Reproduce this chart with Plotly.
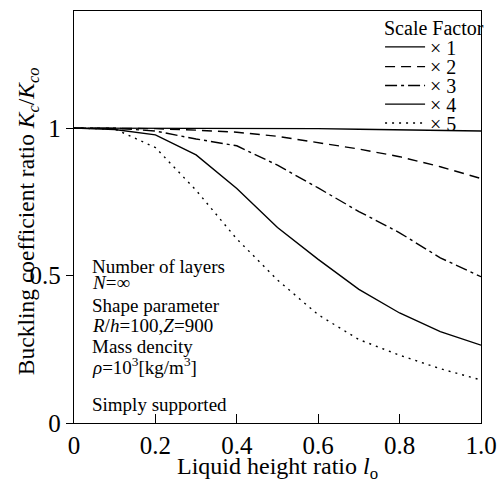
import plotly.graph_objects as go

# ---- data ----
liquid_height = [0.0, 0.1, 0.2, 0.3, 0.4, 0.5, 0.6, 0.7, 0.8, 0.9, 1.0]
scale_labels = ["× 1", "× 2", "× 3", "× 4", "× 5"]
k_x1 = [1.0, 1.0, 1.0, 1.0, 1.0, 0.999, 0.998, 0.996, 0.994, 0.992, 0.99]
k_x2 = [1.0, 1.0, 0.998, 0.993, 0.986, 0.972, 0.951, 0.929, 0.903, 0.869, 0.829]
k_x3 = [1.0, 1.0, 0.99, 0.963, 0.94, 0.874, 0.797, 0.717, 0.645, 0.56, 0.496]
k_x4 = [1.0, 0.995, 0.977, 0.909, 0.795, 0.663, 0.555, 0.453, 0.373, 0.31, 0.264]
k_x5 = [1.0, 0.997, 0.934, 0.789, 0.624, 0.485, 0.367, 0.283, 0.23, 0.184, 0.146]
series = [k_x1, k_x2, k_x3, k_x4, k_x5]

x_ticks = [0, 0.2, 0.4, 0.6, 0.8, 1.0]
x_ticktext = ["0", "0.2", "0.4", "0.6", "0.8", "1.0"]
y_ticks = [0, 0.5, 1]
y_ticktext = ["0", "0.5", "1"]

x_title = "Liquid height ratio <i>l</i><sub>o</sub>"
y_title = "Buckling coefficient ratio <i>K</i><sub><i>c</i></sub>/<i>K</i><sub><i>co</i></sub>"
legend_title = "Scale Factor"
info_lines = [
    "Number of layers",
    "<i>N</i>=∞",
    "Shape parameter",
    "<i>R</i>/<i>h</i>=100,<i>Z</i>=900",
    "Mass dencity",
    "<i>ρ</i>=10<sup>3</sup>[kg/m<sup>3</sup>]",
    "Simply supported",
]

# ---- styles ----
FONT = "Liberation Serif, Times New Roman, serif"
dashes = ["solid", "10px,6px", "12px,4px,3px,4px", "solid", "2px,5px"]
info_y = [0.381, 0.341, 0.284, 0.236, 0.186, 0.138, 0.046]
legend_y = [0.913, 0.865, 0.819, 0.774, 0.728]

fig = go.Figure()
for i, (lab, ys) in enumerate(zip(scale_labels, series)):
    lg = "legend" if i == 0 else f"legend{i+1}"
    fig.add_trace(go.Scatter(
        x=liquid_height, y=ys, mode="lines", name=lab,
        line=dict(color="black", width=1.4, dash=dashes[i]),
        legend=lg,
    ))

legend_layouts = {}
for i, ly in enumerate(legend_y):
    key = "legend" if i == 0 else f"legend{i+1}"
    legend_layouts[key] = dict(
        x=0.752, xanchor="left", y=ly, yanchor="middle",
        bgcolor="rgba(0,0,0,0)", borderwidth=0,
        font=dict(family=FONT, size=20, color="black"),
        itemwidth=40,
    )

annotations = [dict(
    text=legend_title, xref="paper", yref="paper", x=0.757, y=0.958,
    xanchor="left", yanchor="middle", showarrow=False,
    font=dict(family=FONT, size=20, color="black"),
)]
for t, yy in zip(info_lines, info_y):
    annotations.append(dict(
        text=t, xref="paper", yref="paper", x=0.040, y=yy,
        xanchor="left", yanchor="middle", showarrow=False,
        font=dict(family=FONT, size=19, color="black"),
    ))
annotations.append(dict(
    text=y_title, xref="paper", yref="paper", x=-0.113, y=0.49, textangle=-90,
    xanchor="center", yanchor="middle", showarrow=False,
    font=dict(family=FONT, size=23.5, color="black"),
))
annotations.append(dict(
    text=x_title, xref="paper", yref="paper", x=0.5, y=-0.109,
    xanchor="center", yanchor="middle", showarrow=False,
    font=dict(family=FONT, size=24, color="black"),
))

fig.update_layout(
    width=500, height=481,
    margin=dict(l=74, r=19, t=11, b=58, autoexpand=False),
    paper_bgcolor="white", plot_bgcolor="white",
    showlegend=True,
    annotations=annotations,
    font=dict(family=FONT, color="black"),
    **legend_layouts,
)
fig.update_xaxes(
    range=[0, 1.0], tickvals=x_ticks, ticktext=x_ticktext,
    ticks="inside", ticklen=9, tickcolor="black", tickwidth=1.2,
    showline=True, linecolor="black", linewidth=1.4, mirror=True,
    showgrid=False, zeroline=False, automargin=False,
    tickfont=dict(family=FONT, size=25, color="black"),
)
fig.update_yaxes(
    range=[0, 1.397], tickvals=y_ticks, ticktext=y_ticktext,
    ticks="outside", ticklen=7, tickcolor="black", tickwidth=1.2,
    showline=True, linecolor="black", linewidth=1.4, mirror=True,
    showgrid=False, zeroline=False, automargin=False,
    tickfont=dict(family=FONT, size=25, color="black"),
)

fig.write_html("out.html")
